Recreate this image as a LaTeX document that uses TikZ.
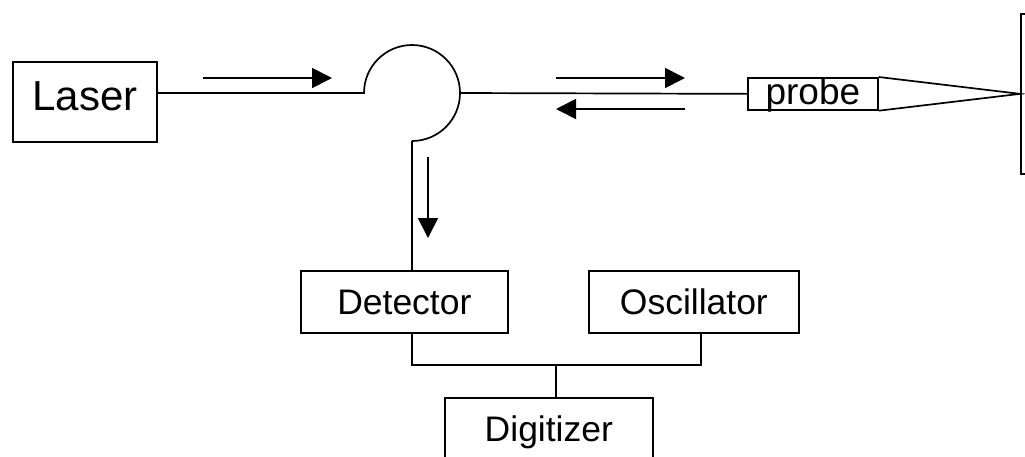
\documentclass[tikz,border=0pt]{standalone}
\usepackage{fontspec}
\setmainfont{Liberation Sans}
\usetikzlibrary{arrows.meta}
\tikzset{
  wire/.style={line width=1.7pt},
  flow/.style={line width=1.7pt, -{Triangle[length=20pt,width=20pt]}},
  unit/.style={draw, line width=1.7pt, inner sep=0pt, anchor=north west,
    font=\fontsize{35.5}{42}\selectfont, text height=25pt, text depth=0pt},
}
\begin{document}
\begin{tikzpicture}[x=1pt,y=-1pt]
\useasboundingbox (0,0) rectangle (1025,456);
\clip (0,0) rectangle (1025,456);

% source, probe and sample
\node[unit, minimum width=144pt, minimum height=80pt,
      font=\fontsize{42}{50}\selectfont, text height=30pt, text depth=12pt]
      (laser) at (12,61) {Laser};
\node[unit, minimum width=130pt, minimum height=32pt,
      font=\fontsize{37}{44}\selectfont, text height=21pt, text depth=0pt]
      (probe) at (747,77) {probe};
\node[draw, line width=1.7pt, anchor=north west, minimum width=40pt,
      minimum height=160pt, inner sep=0pt] (sample) at (1020,13) {};

% electronics
\node[unit, minimum width=207pt, minimum height=62pt] (det) at (300,270) {Detector};
\node[unit, minimum width=210pt, minimum height=62pt] (osc) at (588,270) {Oscillator};
\node[unit, minimum width=208pt, minimum height=62pt] (dig) at (444,397) {Digitizer};

% circulator ports
\coordinate (cin)   at (364,93);
\coordinate (cout)  at (460,93);
\coordinate (cdrop) at (412,141);
\coordinate (bus)   at (556,365);

% fibre path
\draw[wire] (laser.east |- cin) -- (cin)
  arc[start angle=180, end angle=-90, radius=48pt];
\draw[wire] (cout) -- (probe.west);
\draw[wire] (probe.north east) -- (sample.west) -- (probe.south east);
\draw[wire] (cdrop) -- (cdrop |- det.north);

% signal bus
\draw[wire] (det.south -| cdrop) |- (bus) -| ([xshift=7pt]osc.south);
\draw[wire] (bus) -- (bus |- dig.north);

% light direction arrows
\coordinate (a1s) at (203,78);  \coordinate (a1e) at (332,78);
\coordinate (a2s) at (556,78);  \coordinate (a2e) at (685,78);
\coordinate (a3s) at (685,109); \coordinate (a3e) at (556,109);
\coordinate (a4s) at (428,157); \coordinate (a4e) at (428,238);
\draw[flow] (a1s) -- (a1e);
\draw[flow] (a2s) -- (a2e);
\draw[flow] (a3s) -- (a3e);
\draw[flow] (a4s) -- (a4e);
\end{tikzpicture}
\end{document}
